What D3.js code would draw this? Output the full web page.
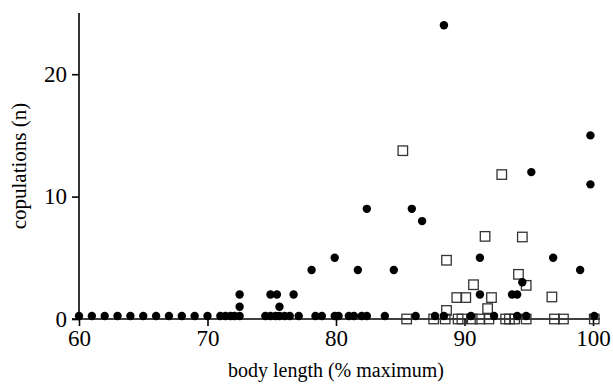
<!DOCTYPE html>
<html>
<head>
<meta charset="utf-8">
<script src="https://cdn.jsdelivr.net/npm/d3@7"></script>
<style>
  body { margin: 0; background: #fff; }
</style>
</head>
<body>
<svg width="613" height="387"></svg>
<script>
var fontFamily = "'Liberation Serif', 'DejaVu Serif', 'Times New Roman', serif";

// filled circles: males with copulations recorded (zero row sits just above axis)
var filledX = [60, 61, 62, 63, 64, 65, 66, 67, 68, 69, 70, 71.0, 71.4, 71.8, 72.1, 72.5,
  74.5, 74.9, 75.3, 75.6, 76.0, 76.4, 77.1, 78.4, 78.9, 79.9, 80.2, 81.0, 81.4, 82.0, 82.4,
  83.8, 86.2, 87.7, 88.4, 90.5, 92.3, 94.1, 94.8, 100.1,
  72.5, 72.5, 74.9, 75.4, 75.6, 76.7, 78.1, 79.9, 81.7, 82.4, 84.5, 85.9, 86.7, 88.4,
  91.2, 91.2, 93.7, 94.1, 94.5, 95.2, 96.9, 99.0, 99.8, 99.8];
var filledY = [0.25, 0.25, 0.25, 0.25, 0.25, 0.25, 0.25, 0.25, 0.25, 0.25, 0.25, 0.25, 0.25, 0.25, 0.25, 0.25,
  0.25, 0.25, 0.25, 0.25, 0.25, 0.25, 0.25, 0.25, 0.25, 0.25, 0.25, 0.25, 0.25, 0.25, 0.25,
  0.25, 0.25, 0.25, 0.25, 0.25, 0.25, 0.25, 0.25, 0.25,
  1, 2, 2, 2, 1, 2, 4, 5, 4, 9, 4, 9, 8, 24,
  5, 2, 2, 2, 3, 12, 5, 4, 15, 11];

// open squares
var openX = [85.5, 87.6, 88.5, 89.5, 89.8, 90.6, 91.2, 91.9, 93.2, 93.5, 93.9, 94.8, 97.0, 97.7, 100.1,
  85.2, 92.9, 91.6, 94.5, 88.6, 94.2, 90.7, 94.8, 89.4, 90.1, 92.1, 96.8, 91.8, 88.6];
var openY = [0, 0, 0, 0, 0, 0, 0, 0, 0, 0, 0, 0, 0, 0, 0,
  13.75, 11.8, 6.75, 6.7, 4.8, 3.65, 2.8, 2.75, 1.75, 1.75, 1.75, 1.8, 0.85, 0.7];

var xTicks = [60, 70, 80, 90, 100];
var yTicks = [0, 10, 20];

var svg = d3.select("svg");

var x = d3.scaleLinear().domain([60, 100]).range([79, 593]);
var y = d3.scaleLinear().domain([0, 25]).range([319, 13]);

var g = svg.append("g");

//axis lines are redrawn so they run a bit past the last tick
var xAxis = d3.axisBottom(x).tickValues(xTicks).tickSize(7).tickPadding(4).tickSizeOuter(0);
var gx = g.append("g")
  .attr("transform", "translate(0," + y(0) + ")")
  .attr("font-family", fontFamily)
  .call(xAxis);
gx.select(".domain").remove();
gx.append("line")
  .attr("x1", 72).attr("x2", 600)
  .attr("stroke", "#000").attr("stroke-width", 1.6);
gx.selectAll(".tick line").attr("stroke-width", 1.6);
gx.selectAll(".tick text").attr("font-size", 23).attr("font-family", fontFamily);

var yAxis = d3.axisLeft(y).tickValues(yTicks).tickSize(7).tickPadding(5).tickSizeOuter(0);
var gy = g.append("g")
  .attr("transform", "translate(" + x(60) + ",0)")
  .attr("font-family", fontFamily)
  .call(yAxis);
gy.select(".domain").remove();
gy.append("line")
  .attr("y1", y(25)).attr("y2", y(0))
  .attr("stroke", "#000").attr("stroke-width", 1.6);
gy.selectAll(".tick line").attr("stroke-width", 1.6);
gy.selectAll(".tick text").attr("font-size", 23).attr("font-family", fontFamily);

// points
var openData = openX.map(function(d, i) { return [d, openY[i]]; });
var filledData = filledX.map(function(d, i) { return [d, filledY[i]]; });

g.selectAll("rect.open")
  .data(openData)
  .enter()
  .append("rect")
  .attr("class", "open")
  .attr("x", function(d) { return x(d[0]) - 4.75; })
  .attr("y", function(d) { return y(d[1]) - 4.75; })
  .attr("width", 9.5)
  .attr("height", 9.5)
  .attr("fill", "none")
  .attr("stroke", "#333")
  .attr("stroke-width", 1.3);

g.selectAll("circle.filled")
  .data(filledData)
  .enter()
  .append("circle")
  .attr("class", "filled")
  .attr("cx", function(d) { return x(d[0]); })
  .attr("cy", function(d) { return y(d[1]); })
  .attr("r", 4.2)
  .attr("fill", "#000");

// axis titles
svg.append("text")
  .attr("x", 336)
  .attr("y", 377)
  .attr("text-anchor", "middle")
  .attr("font-family", fontFamily)
  .attr("font-size", 20)
  .text("body length (% maximum)");

svg.append("text")
  .attr("transform", "translate(26,166) rotate(-90)")
  .attr("text-anchor", "middle")
  .attr("font-family", fontFamily)
  .attr("font-size", 21)
  .text("copulations (n)");
</script>
</body>
</html>
